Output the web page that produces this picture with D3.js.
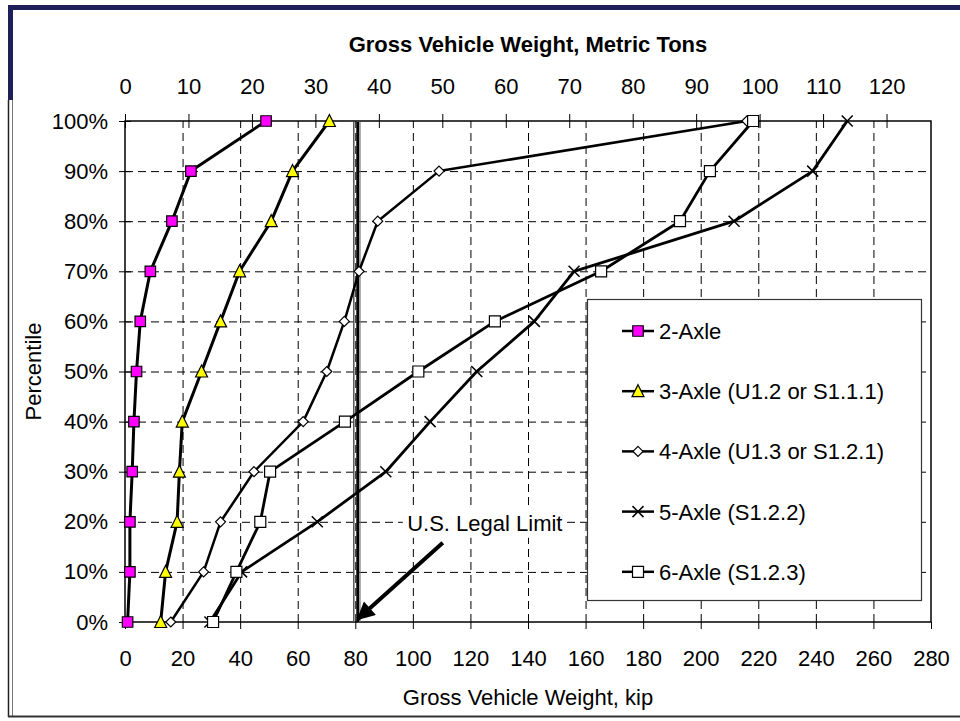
<!DOCTYPE html>
<html>
<head>
<meta charset="utf-8">
<script src="https://cdn.jsdelivr.net/npm/d3@7"></script>
<style>
  body { margin: 0; background: #fff; }
  svg { display: block; font-family: "Liberation Sans", Arial, sans-serif; }
</style>
</head>
<body>
<div id="chart"></div>
<script>
// percentiles (y) and weights in kip (x) for each truck class
var percentiles = [0, 10, 20, 30, 40, 50, 60, 70, 80, 90, 100];
var axle2 = [0.9, 1.7, 1.7, 2.5, 3.1, 4.0, 5.3, 8.8, 16.3, 22.9, 49.0];
var axle3 = [12.4, 14.1, 18.1, 18.9, 19.9, 26.6, 33.2, 39.8, 50.8, 58.2, 71.0];
var axle4 = [15.9, 27.3, 33.2, 44.8, 61.9, 70.1, 76.2, 81.3, 87.8, 109.1, 216.0];
var axle5 = [29.5, 40.5, 66.8, 90.6, 106.0, 122.2, 142.2, 156.0, 211.6, 238.9, 250.9];
var axle6 = [30.6, 38.7, 47.0, 50.4, 76.4, 101.9, 128.5, 165.4, 192.8, 203.2, 218.2];

var seriesNames = ["2-Axle", "3-Axle (U1.2 or S1.1.1)", "4-Axle (U1.3 or S1.2.1)", "5-Axle (S1.2.2)", "6-Axle (S1.2.3)"];
var kipTicks = [0, 20, 40, 60, 80, 100, 120, 140, 160, 180, 200, 220, 240, 260, 280];
var tonTicks = [0, 10, 20, 30, 40, 50, 60, 70, 80, 90, 100, 110, 120];
var pctTicks = [0, 10, 20, 30, 40, 50, 60, 70, 80, 90, 100];
var legalLimit = 80;
var kipPerTon = 2.2046;

var width = 960, height = 721;
var margin = {top: 121, right: 29, bottom: 99, left: 125};
var w = width - margin.left - margin.right,
    h = height - margin.top - margin.bottom;

var x = d3.scaleLinear().domain([0, 280]).range([0, w]);
var xt = d3.scaleLinear().domain([0, 280 / kipPerTon]).range([0, w]);
var y = d3.scaleLinear().domain([0, 100]).range([h, 0]);

var svg = d3.select("#chart").append("svg")
    .attr("width", width)
    .attr("height", height);

// outer frame
svg.append("rect").attr("x", 8).attr("y", 5).attr("width", 952).attr("height", 5).style("fill", "#1f1f5a");
svg.append("rect").attr("x", 8).attr("y", 5).attr("width", 5).attr("height", 95).style("fill", "#1f1f5a");
svg.append("line").attr("x1", 8.5).attr("x2", 8.5).attr("y1", 100).attr("y2", 717).style("stroke", "#222").style("stroke-width", 1.5);
svg.append("line").attr("x1", 12.5).attr("x2", 12.5).attr("y1", 100).attr("y2", 717).style("stroke", "#777").style("stroke-width", 1);
svg.append("line").attr("x1", 8).attr("x2", 960).attr("y1", 716.5).attr("y2", 716.5).style("stroke", "#333").style("stroke-width", 2);

var g = svg.append("g")
    .attr("transform", "translate(" + margin.left + "," + margin.top + ")");

// gridlines
g.append("g")
    .attr("class", "grid")
    .call(d3.axisLeft(y).tickValues(pctTicks.slice(1, -1)).tickSize(-w).tickFormat(""))
    .call(function(s) { s.select(".domain").remove(); });
g.append("g")
    .attr("class", "grid")
    .attr("transform", "translate(0," + h + ")")
    .call(d3.axisBottom(x).tickValues(kipTicks.slice(1, -1)).tickSize(-h).tickFormat(""))
    .call(function(s) { s.select(".domain").remove(); });
g.selectAll(".grid line")
    .style("stroke", "#000")
    .style("stroke-width", 1)
    .style("stroke-dasharray", "8,5");

// plot frame
g.append("rect")
    .attr("width", w).attr("height", h)
    .style("fill", "none")
    .style("stroke", "#000")
    .style("stroke-width", 1.5);

// axes
var bottomAxis = g.append("g")
    .attr("transform", "translate(0," + h + ")")
    .call(d3.axisBottom(x).tickValues(kipTicks).tickSize(7).tickPadding(21));

var topAxis = g.append("g")
    .call(d3.axisTop(xt).tickValues(tonTicks).tickSize(7).tickPadding(20));
topAxis.selectAll(".tick line").attr("y1", 7);

var leftAxis = g.append("g")
    .call(d3.axisLeft(y).tickValues(pctTicks).tickSize(6).tickPadding(11)
      .tickFormat(function(d) { return d + "%"; }));
leftAxis.selectAll(".tick line").attr("x1", 6);

[bottomAxis, topAxis, leftAxis].forEach(function(a) {
  a.select(".domain").remove();
  a.selectAll(".tick line").style("stroke", "#000").style("stroke-width", 1);
  a.selectAll("text")
      .style("font-size", "22px")
      .style("fill", "#000")
      .style("font-family", "'Liberation Sans', Arial, sans-serif");
});

// axis titles
svg.append("text")
    .attr("x", margin.left + w / 2)
    .attr("y", 52)
    .attr("text-anchor", "middle")
    .style("font-size", "22px")
    .style("font-weight", "bold")
    .text("Gross Vehicle Weight, Metric Tons");

svg.append("text")
    .attr("x", margin.left + w / 2)
    .attr("y", 705)
    .attr("text-anchor", "middle")
    .style("font-size", "22px")
    .text("Gross Vehicle Weight, kip");

svg.append("text")
    .attr("transform", "translate(41," + (margin.top + h / 2) + ") rotate(-90)")
    .attr("text-anchor", "middle")
    .style("font-size", "22px")
    .text("Percentile");

// legal limit line
var lx = x(legalLimit);
g.append("line").attr("x1", lx - 1.5).attr("x2", lx - 1.5).attr("y1", 1).attr("y2", h)
    .style("stroke", "#555").style("stroke-width", 1.5);
g.append("line").attr("x1", lx + 2.5).attr("x2", lx + 2.5).attr("y1", 1).attr("y2", h)
    .style("stroke", "#000").style("stroke-width", 3);
g.append("line").attr("x1", lx + 4.8).attr("x2", lx + 4.8).attr("y1", 1).attr("y2", h)
    .style("stroke", "#777").style("stroke-width", 1);

// series
var series = [
  {name: seriesNames[0], values: axle2, symbol: "square", fill: "#ff00ff", size: 10.5, lw: 3},
  {name: seriesNames[1], values: axle3, symbol: "triangle", fill: "#ffff00", size: 11, lw: 3},
  {name: seriesNames[2], values: axle4, symbol: "diamond", fill: "#fff", size: 10, lw: 2.5},
  {name: seriesNames[3], values: axle5, symbol: "x", fill: "none", size: 11, lw: 2.8},
  {name: seriesNames[4], values: axle6, symbol: "square", fill: "#fff", size: 11, lw: 2.8}
];

var line = d3.line()
    .x(function(d) { return x(d[0]); })
    .y(function(d) { return y(d[1]); });

function markerPath(type, s) {
  var r = s / 2;
  if (type === "square") return "M" + (-r) + "," + (-r) + "h" + s + "v" + s + "h" + (-s) + "Z";
  if (type === "triangle") return "M0," + (-r - 1) + "L" + (r + 0.5) + "," + (r) + "L" + (-r - 0.5) + "," + (r) + "Z";
  if (type === "diamond") return "M0," + (-r) + "L" + r + ",0L0," + r + "L" + (-r) + ",0Z";
  return "M" + (-r) + "," + (-r) + "L" + r + "," + r + "M" + (-r) + "," + r + "L" + r + "," + (-r);
}

function drawMarker(sel, s) {
  sel.append("path")
      .attr("d", markerPath(s.symbol, s.size))
      .style("fill", s.fill)
      .style("stroke", "#000")
      .style("stroke-width", s.symbol === "x" ? 1.5 : 1.2);
}

series.forEach(function(s) {
  var pts = s.values.map(function(v, i) { return [v, percentiles[i]]; });
  g.append("path")
      .datum(pts)
      .attr("d", line)
      .style("fill", "none")
      .style("stroke", "#000")
      .style("stroke-width", s.lw)
      .style("stroke-linejoin", "round");
  pts.forEach(function(p) {
    var m = g.append("g").attr("transform", "translate(" + x(p[0]) + "," + y(p[1]) + ")");
    drawMarker(m, s);
  });
});

// annotation
var arrowFrom = [110.4, 15.8], arrowTo = [80.9, 0.6];
svg.append("defs").append("marker")
    .attr("id", "arrowhead")
    .attr("viewBox", "0 0 10 10")
    .attr("refX", 9).attr("refY", 5)
    .attr("markerWidth", 5).attr("markerHeight", 4.5)
    .attr("orient", "auto")
  .append("path")
    .attr("d", "M0,0L10,5L0,10Z")
    .style("fill", "#000");

g.append("line")
    .attr("x1", x(arrowFrom[0])).attr("y1", y(arrowFrom[1]))
    .attr("x2", x(arrowTo[0])).attr("y2", y(arrowTo[1]))
    .style("stroke", "#000")
    .style("stroke-width", 4)
    .attr("marker-end", "url(#arrowhead)");

var labelPos = [125, 20];
g.append("rect")
    .attr("x", x(labelPos[0]) - 82).attr("y", y(labelPos[1]) - 14)
    .attr("width", 164).attr("height", 30)
    .style("fill", "#fff");
g.append("text")
    .attr("x", x(labelPos[0]))
    .attr("y", y(labelPos[1]) + 9)
    .attr("text-anchor", "middle")
    .style("font-size", "22px")
    .text("U.S. Legal Limit");

// legend
var legend = svg.append("g").attr("transform", "translate(587,299)");
legend.append("rect")
    .attr("x", 0.5).attr("y", 0.5)
    .attr("width", 334).attr("height", 301)
    .style("fill", "#fff")
    .style("stroke", "#333")
    .style("stroke-width", 1.2);

series.forEach(function(s, i) {
  var row = legend.append("g").attr("transform", "translate(0," + (32 + i * 60.2) + ")");
  row.append("line")
      .attr("x1", 35).attr("x2", 67)
      .style("stroke", "#000")
      .style("stroke-width", 2.5);
  var m = row.append("g").attr("transform", "translate(51,0)");
  drawMarker(m, s);
  row.append("text")
      .attr("x", 72)
      .attr("y", 8)
      .style("font-size", "22px")
      .text(s.name);
});
</script>
</body>
</html>
